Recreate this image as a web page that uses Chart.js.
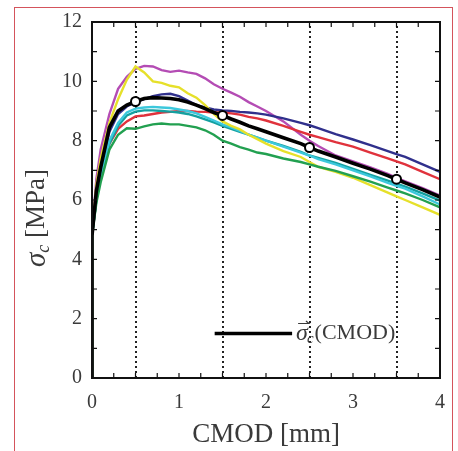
<!DOCTYPE html>
<html lang="en">
<head>
  <meta charset="UTF-8">
  <title>sigma_c x CMOD</title>
  <script src="https://cdn.jsdelivr.net/npm/chart.js"></script>
  <style>
    html, body { margin: 0; padding: 0; background: #fff; }
    #wrap { position: relative; width: 458px; height: 451px; overflow: hidden; }
    #box { position: absolute; left: 0; top: 0; width: 458px; height: 451px; }
    #frame {
      position: absolute; left: 14px; top: 7px; width: 439px; height: 470px;
      border: 1.5px solid #d4545c; box-sizing: border-box; pointer-events: none;
    }
  </style>
</head>
<body>
<div id="wrap">
  <div id="box"><canvas id="grafico"></canvas></div>
  <div id="frame"></div>
</div>
<script>
  // CMOD [mm] sample positions shared by every curve
  const cmod = [0, 0, 0.05, 0.1, 0.2, 0.3, 0.4, 0.5, 0.6, 0.7, 0.8, 0.9, 1.0, 1.1, 1.2, 1.3, 1.4,
    1.5, 1.6, 1.7, 1.8, 1.9, 2.0, 2.2, 2.4, 2.5, 2.6, 2.8, 3.0, 3.2, 3.4, 3.5, 3.6, 3.8, 4.0];

  // sigma_c [MPa] of each specimen
  const magenta = [0, 4.8, 6.7, 7.7, 8.9, 9.75, 10.15, 10.42, 10.52, 10.5, 10.38, 10.32, 10.36, 10.3, 10.25, 10.1, 9.9,
    9.75, 9.62, 9.48, 9.3, 9.15, 9.0, 8.65, 8.2, 8.0, 7.82, 7.5, 7.3, 7.1, 6.88, 6.75, 6.63, 6.4, 6.15];
  const amarelo = [0, 4.8, 6.5, 7.4, 8.6, 9.4, 10.05, 10.5, 10.3, 10.0, 9.95, 9.85, 9.8, 9.6, 9.45, 9.2, 8.9,
    8.65, 8.5, 8.38, 8.2, 8.05, 7.9, 7.65, 7.45, 7.28, 7.12, 6.95, 6.75, 6.5, 6.25, 6.12, 6.0, 5.75, 5.5];
  const azul = [0, 4.8, 6.2, 7.0, 8.3, 8.9, 9.15, 9.3, 9.4, 9.5, 9.56, 9.58, 9.5, 9.35, 9.2, 9.12, 9.05,
    9.02, 9.0, 8.97, 8.95, 8.92, 8.88, 8.75, 8.6, 8.52, 8.42, 8.22, 8.04, 7.85, 7.65, 7.55, 7.45, 7.2, 6.95];
  const vermelho = [0, 4.8, 6.0, 6.9, 7.9, 8.4, 8.65, 8.82, 8.85, 8.9, 8.95, 8.97, 9.0, 9.0, 8.98, 8.97, 8.95,
    8.95, 8.92, 8.88, 8.8, 8.75, 8.68, 8.5, 8.3, 8.2, 8.12, 7.95, 7.8, 7.6, 7.4, 7.3, 7.2, 6.95, 6.7];
  const ciano = [0, 4.8, 6.0, 6.8, 8.0, 8.6, 8.95, 9.08, 9.12, 9.14, 9.12, 9.1, 9.05, 9.0, 8.92, 8.8, 8.68,
    8.55, 8.45, 8.33, 8.2, 8.1, 8.0, 7.8, 7.6, 7.5, 7.38, 7.2, 7.0, 6.8, 6.58, 6.48, 6.38, 6.12, 5.85];
  const turquesa = [0, 4.8, 6.0, 6.8, 7.9, 8.5, 8.85, 8.98, 9.02, 9.02, 9.0, 8.98, 8.95, 8.9, 8.82, 8.72, 8.62,
    8.5, 8.4, 8.3, 8.2, 8.1, 8.0, 7.82, 7.62, 7.5, 7.42, 7.25, 7.05, 6.85, 6.65, 6.55, 6.45, 6.22, 5.98];
  const verde = [0, 4.8, 5.9, 6.6, 7.7, 8.2, 8.42, 8.4, 8.48, 8.55, 8.58, 8.55, 8.55, 8.5, 8.45, 8.35, 8.2,
    8.0, 7.9, 7.78, 7.7, 7.6, 7.55, 7.4, 7.28, 7.2, 7.12, 6.98, 6.8, 6.62, 6.42, 6.32, 6.22, 6.0, 5.75];
  // mean curve
  const media = [0, 4.8, 6.3, 7.1, 8.45, 9.0, 9.2, 9.32, 9.42, 9.45, 9.44, 9.42, 9.38, 9.3, 9.2, 9.08, 8.95,
    8.85, 8.73, 8.62, 8.5, 8.4, 8.3, 8.1, 7.9, 7.77, 7.65, 7.45, 7.24, 7.04, 6.82, 6.7, 6.58, 6.35, 6.1];

  // white markers on the mean curve
  const marcasX = [0.5, 1.5, 2.5, 3.5];
  const marcasY = [9.32, 8.85, 7.77, 6.7];

  // dotted vertical lines
  const pontilhado = [0.5, 1.5, 2.5, 3.5];

  const xTicks = [0, 1, 2, 3, 4];
  const yTicks = [0, 2, 4, 6, 8, 10, 12];

  const serif = "'Liberation Serif', 'DejaVu Serif', serif";
  const corTexto = '#3a3a3a';

  const pontos = vals => cmod.map((x, i) => ({ x: x, y: vals[i] }));

  const curvas = [
    { dados: verde, cor: '#22a050' },
    { dados: amarelo, cor: '#e6e02a' },
    { dados: ciano, cor: '#3cc8dc' },
    { dados: turquesa, cor: '#14a0a0' },
    { dados: vermelho, cor: '#e0323c' },
    { dados: azul, cor: '#30308c' },
    { dados: magenta, cor: '#b44cb4' }
  ];

  const enfeites = {
    id: 'enfeites',
    beforeDatasetsDraw(chart) {
      const { ctx, chartArea: a, scales: { x } } = chart;
      ctx.save();
      ctx.strokeStyle = '#222';
      ctx.lineWidth = 2;
      ctx.setLineDash([2, 3]);
      pontilhado.forEach(v => {
        const px = Math.round(x.getPixelForValue(v));
        ctx.beginPath();
        ctx.moveTo(px, a.bottom);
        ctx.lineTo(px, a.top);
        ctx.stroke();
      });
      ctx.restore();
    },
    afterDraw(chart) {
      const { ctx, chartArea: a, scales: { x, y } } = chart;
      ctx.save();
      // box
      ctx.strokeStyle = '#111';
      ctx.lineWidth = 2;
      ctx.strokeRect(a.left, a.top, a.right - a.left, a.bottom - a.top);
      // inward ticks
      ctx.lineWidth = 1.2;
      ctx.beginPath();
      for (let v = 0.25; v < 4; v += 0.25) {
        const px = x.getPixelForValue(v);
        ctx.moveTo(px, a.bottom); ctx.lineTo(px, a.bottom - 5);
        ctx.moveTo(px, a.top); ctx.lineTo(px, a.top + 5);
      }
      for (let v = 1; v < 12; v += 1) {
        const py = y.getPixelForValue(v);
        ctx.moveTo(a.left, py); ctx.lineTo(a.left + 5, py);
        ctx.moveTo(a.right, py); ctx.lineTo(a.right - 5, py);
      }
      ctx.stroke();

      // y title: sigma_c [MPa]
      ctx.save();
      ctx.translate(37, 218);
      ctx.rotate(-Math.PI / 2);
      ctx.fillStyle = corTexto;
      ctx.textBaseline = 'middle';
      const f1 = 'italic 29px ' + serif, f2 = 'italic 18px ' + serif, f3 = '27px ' + serif;
      ctx.font = f1; const w1 = ctx.measureText('σ').width;
      ctx.font = f2; const w2 = ctx.measureText('c').width;
      ctx.font = f3; const w3 = ctx.measureText(' [MPa]').width;
      let px = -(w1 + w2 + w3) / 2;
      ctx.font = f1; ctx.fillText('σ', px, 0); px += w1;
      ctx.font = f2; ctx.fillText('c', px, 7); px += w2;
      ctx.font = f3; ctx.fillText(' [MPa]', px, 0);
      ctx.restore();

      // legend
      const ly = y.getPixelForValue(1.5);
      const lx0 = x.getPixelForValue(1.41), lx1 = x.getPixelForValue(2.3);
      ctx.strokeStyle = '#000';
      ctx.lineWidth = 3.5;
      ctx.beginPath(); ctx.moveTo(lx0, ly); ctx.lineTo(lx1, ly); ctx.stroke();
      ctx.fillStyle = corTexto;
      ctx.textBaseline = 'middle';
      let tx = lx1 + 4;
      ctx.font = 'italic 24px ' + serif; ctx.fillText('σ', tx, ly);
      const ws = ctx.measureText('σ').width;
      ctx.lineWidth = 1.2; ctx.strokeStyle = corTexto;
      ctx.beginPath(); ctx.moveTo(tx + 2, ly - 10); ctx.lineTo(tx + ws + 1, ly - 10);
      ctx.lineTo(tx + ws - 2, ly - 12.5); ctx.stroke();
      tx += ws;
      ctx.font = 'italic 15px ' + serif; ctx.fillText('c', tx - 1, ly + 6);
      tx += ctx.measureText('c').width;
      ctx.font = '22px ' + serif; ctx.fillText('(CMOD)', tx, ly);
      ctx.restore();
    }
  };

  const datasets = curvas.map(c => ({
    data: pontos(c.dados),
    borderColor: c.cor,
    borderWidth: 2.4,
    pointRadius: 0,
    tension: 0,
    order: 2
  }));
  datasets.push({
    data: pontos(media),
    borderColor: '#000',
    borderWidth: 3.6,
    pointRadius: 0,
    tension: 0,
    order: 1
  });
  datasets.push({
    data: marcasX.map((x, i) => ({ x: x, y: marcasY[i] })),
    showLine: false,
    pointRadius: 4.5,
    pointBackgroundColor: '#fff',
    pointBorderColor: '#000',
    pointBorderWidth: 2,
    order: 0
  });

  const ctx = document.getElementById('grafico').getContext('2d');
  new Chart(ctx, {
    type: 'line',
    data: { datasets: datasets },
    plugins: [enfeites],
    options: {
      responsive: true,
      maintainAspectRatio: false,
      devicePixelRatio: 1,
      animation: false,
      layout: { padding: { top: 22, right: 18, left: 0, bottom: 0 } },
      plugins: { legend: { display: false }, tooltip: { enabled: false } },
      scales: {
        x: {
          type: 'linear', min: 0, max: 4,
          afterBuildTicks: s => { s.ticks = xTicks.map(v => ({ value: v })); },
          afterFit: s => { s.height = 73; },
          grid: { display: false, drawTicks: false },
          border: { display: false },
          ticks: { padding: 13, color: corTexto, font: { family: serif, size: 20 } },
          title: {
            display: true, text: 'CMOD [mm]', color: corTexto,
            font: { family: serif, size: 27 }, padding: { top: 0, bottom: 0 }
          }
        },
        y: {
          type: 'linear', min: 0, max: 12,
          afterBuildTicks: s => { s.ticks = yTicks.map(v => ({ value: v })); },
          afterFit: s => { s.width = 92; },
          grid: { display: false, drawTicks: false },
          border: { display: false },
          ticks: { padding: 10, color: corTexto, font: { family: serif, size: 20 } }
        }
      }
    }
  });
</script>
</body>
</html>
